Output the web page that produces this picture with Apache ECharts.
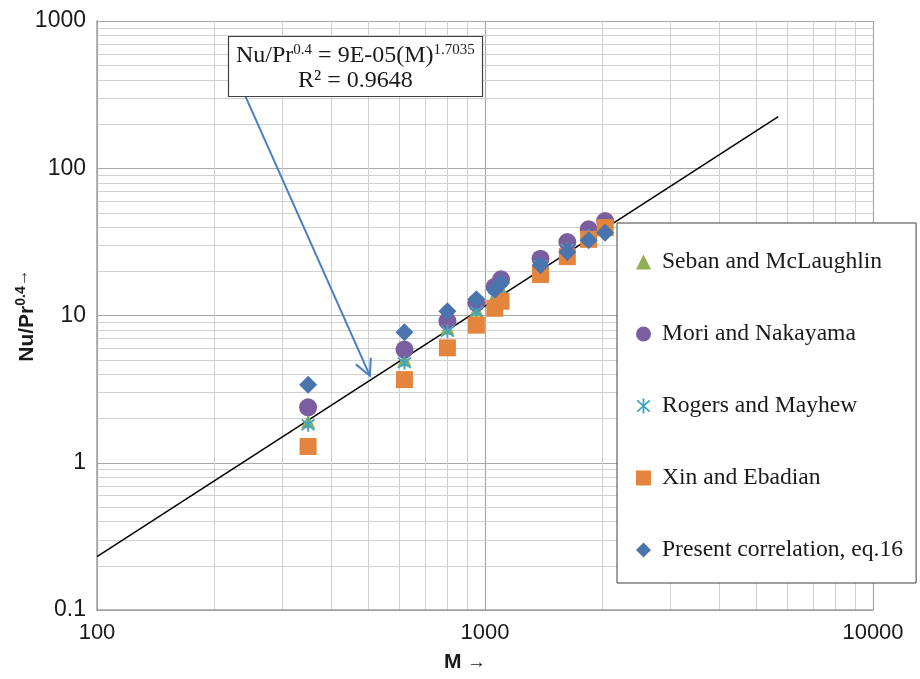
<!DOCTYPE html>
<html>
<head>
<meta charset="utf-8">
<script src="https://cdn.jsdelivr.net/npm/echarts@6/dist/echarts.min.js"></script>
<style>html,body{margin:0;padding:0;background:#fff}#c{width:920px;height:679px}</style>
</head>
<body>
<div id="c"></div>
<script>
// ---- data ----
const mValues = [350, 620, 800, 950, 1060, 1100, 1390, 1630, 1850, 2040];
const seban   = [1.91, 5.02, 8.25, 11.0, 13.6, 15.2, 22.5, 29.0, 35.5, 41.5];
const mori    = [2.38, 5.87, 9.15, 12.2, 15.7, 17.6, 24.3, 31.5, 38.5, 43.8];
const rogers  = [1.81, 4.77, 7.82, 10.6, 13.2, 14.8, 21.8, 28.2, 34.5, 40.5];
const xin     = [1.29, 3.67, 6.03, 8.6, 11.2, 12.5, 19.0, 25.1, 32.9, 39.5];
const present = [3.38, 7.70, 10.7, 12.9, 15.0, 16.7, 21.9, 27.0, 32.5, 36.5];
const trendLine = [[100, 0.23], [5700, 224]];
const arrowLine = [241, 310, 505, 3.9];
const xMinor = [200, 300, 400, 500, 600, 700, 800, 900, 2000, 3000, 4000, 5000, 6000, 7000, 8000, 9000];
const yMinor = [0.2,0.3,0.4,0.5,0.6,0.7,0.8,0.9, 2,3,4,5,6,7,8,9, 20,30,40,50,60,70,80,90, 200,300,400,500,600,700,800,900];
const seriesNames = ['Seban and McLaughlin', 'Mori and Nakayama', 'Rogers and Mayhew', 'Xin and Ebadian', 'Present correlation, eq.16'];
const eqText = ['Nu/Pr', '0.4', ' = 9E-05(M)', '1.7035'];
const r2Text = 'R² = 0.9648';

const pair = arr => arr.map((v, i) => [mValues[i], v]);
const starPath = 'path://M4.4,0L5.6,0L5.6,10L4.4,10Z M1.203,0.755L9.603,8.355L8.797,9.245L0.397,1.645Z M9.603,1.645L1.203,9.245L0.397,8.355L8.797,0.755Z';
const serif = '"Liberation Serif", "Times New Roman", serif';
const sans = '"Liberation Sans", Arial, sans-serif';

const chart = echarts.init(document.getElementById('c'), null, {renderer: 'canvas'});

function minorGrid(params, api) {
  const cs = params.coordSys;
  const isX = api.value(2) === 0;
  const p = api.coord([api.value(0), api.value(1)]);
  if (isX) {
    const x = Math.round(p[0]) + 0.5;
    return {type: 'line', shape: {x1: x, y1: cs.y, x2: x, y2: cs.y + cs.height},
            style: {stroke: '#d0d0d0', lineWidth: 1}};
  }
  const y = Math.round(p[1]) + 0.5;
  return {type: 'line', shape: {x1: cs.x, y1: y, x2: cs.x + cs.width, y2: y},
          style: {stroke: '#d0d0d0', lineWidth: 1}};
}

function arrowItem(params, api) {
  const p1 = api.coord([api.value(0), api.value(1)]);
  const p2 = api.coord([api.value(2), api.value(3)]);
  const dx = p2[0] - p1[0], dy = p2[1] - p1[1];
  const len = Math.sqrt(dx * dx + dy * dy);
  const bx = -dx / len, by = -dy / len;
  const a = 27 * Math.PI / 180, L = 18;
  const r1 = [p2[0] + L * (bx * Math.cos(a) - by * Math.sin(a)), p2[1] + L * (bx * Math.sin(a) + by * Math.cos(a))];
  const r2 = [p2[0] + L * (bx * Math.cos(-a) - by * Math.sin(-a)), p2[1] + L * (bx * Math.sin(-a) + by * Math.cos(-a))];
  const st = {stroke: '#4a7fc1', lineWidth: 2, fill: null};
  return {type: 'group', children: [
    {type: 'line', shape: {x1: p1[0], y1: p1[1], x2: p2[0], y2: p2[1]}, style: st},
    {type: 'polyline', shape: {points: [r1, p2, r2]}, style: st}
  ]};
}

chart.setOption({
  animation: false,
  backgroundColor: '#ffffff',
  grid: {left: 97, right: 47, top: 21, bottom: 69, containLabel: false, outerBoundsMode: 'none'},
  title: {
    left: 228, top: 36, zlevel: 2, z: 100,
    backgroundColor: '#ffffff', borderColor: '#404040', borderWidth: 1.2,
    padding: [7, 8, 4, 8],
    itemGap: 0,
    text: '{a|' + eqText[0] + '}{s|' + eqText[1] + '}{a|' + eqText[2] + '}{s|' + eqText[3] + '}\n{a|' + r2Text + '}',
    textStyle: {
      align: 'center',
      rich: {
        a: {fontFamily: serif, fontSize: 24, fontWeight: 'normal', color: '#1a1a1a', lineHeight: 25, align: 'center'},
        s: {fontFamily: serif, fontSize: 15, fontWeight: 'normal', color: '#1a1a1a', verticalAlign: 'top', lineHeight: 25, align: 'center'}
      }
    }
  },
  xAxis: {
    type: 'log', logBase: 10, min: 100, max: 10000,
    name: '{b|M}{r| →}', nameLocation: 'middle', nameGap: 42, nameMoveOverlap: false,
    nameTextStyle: {padding: [0, 40, 0, 0], rich: {b: {fontFamily: sans, fontWeight: 'bold', fontSize: 21, color: '#1a1a1a'}, r: {fontFamily: sans, fontSize: 19, color: '#1a1a1a'}}},
    axisLine: {show: true, lineStyle: {color: '#a0a0a0', width: 1.5}},
    axisTick: {show: false},
    axisLabel: {fontFamily: sans, fontSize: 22, color: '#1a1a1a', margin: 12, formatter: v => String(v)},
    splitLine: {show: true, lineStyle: {color: '#a8a8a8', width: 1.2}}
  },
  yAxis: {
    type: 'log', logBase: 10, min: 0.1, max: 1000,
    name: '{b|Nu/Pr}{s|0.4}{r|→}', nameLocation: 'middle', nameGap: 57, nameRotate: 90, nameMoveOverlap: false,
    nameTextStyle: {rich: {
      b: {fontFamily: sans, fontWeight: 'bold', fontSize: 21, color: '#1a1a1a', lineHeight: 26},
      s: {fontFamily: sans, fontWeight: 'bold', fontSize: 14, color: '#1a1a1a', verticalAlign: 'top', lineHeight: 26},
      r: {fontFamily: sans, fontSize: 17, color: '#1a1a1a', verticalAlign: 'top', lineHeight: 26}
    }},
    axisLine: {show: true, lineStyle: {color: '#a0a0a0', width: 1.5}},
    axisTick: {show: false},
    axisLabel: {fontFamily: sans, fontSize: 23, color: '#1a1a1a', margin: 11,
      formatter: v => String(v)},
    splitLine: {show: true, lineStyle: {color: '#a8a8a8', width: 1.2}}
  },
  legend: {
    orient: 'vertical', left: 617, top: 223, zlevel: 2, z: 50,
    data: seriesNames,
    backgroundColor: '#ffffff', borderColor: '#404040', borderWidth: 1,
    padding: [27, 13, 21, 19],
    itemWidth: 15, itemHeight: 15, itemGap: 48,
    textStyle: {fontFamily: serif, fontSize: 23.6, color: '#1a1a1a', lineHeight: 24, padding: [0, 0, 0, 6]}
  },
  series: [
    {
      type: 'custom', name: '_minorGrid', z: 0, silent: true, clip: false,
      data: xMinor.map(v => [v, 1, 0]).concat(yMinor.map(v => [100, v, 1])),
      encode: {x: 0, y: 1},
      renderItem: minorGrid
    },
    {
      type: 'line', name: '_trend', data: trendLine, z: 2, silent: true,
      showSymbol: false, symbol: 'none',
      lineStyle: {color: '#000000', width: 1.5, type: 'solid'}
    },
    {
      type: 'scatter', name: seriesNames[0], data: pair(seban), z: 3,
      symbol: 'triangle', symbolSize: 14,
      itemStyle: {color: '#8fb052', opacity: 1}
    },
    {
      type: 'scatter', name: seriesNames[1], data: pair(mori), z: 3,
      symbol: 'circle', symbolSize: 18,
      itemStyle: {color: '#7b5ea0', opacity: 1}
    },
    {
      type: 'scatter', name: seriesNames[2], data: pair(rogers), z: 3,
      symbol: starPath, symbolSize: 14,
      itemStyle: {color: '#3fa5c2', opacity: 1}
    },
    {
      type: 'scatter', name: seriesNames[3], data: pair(xin), z: 3,
      symbol: 'rect', symbolSize: 17,
      itemStyle: {color: '#e4853d', opacity: 1}
    },
    {
      type: 'scatter', name: seriesNames[4], data: pair(present), z: 3,
      symbol: 'diamond', symbolSize: 18,
      itemStyle: {color: '#4a74ad', opacity: 1}
    },
    {
      type: 'custom', name: '_arrow', z: 4, silent: true, clip: false,
      data: [arrowLine],
      encode: {x: [0, 2], y: [1, 3]},
      renderItem: arrowItem
    }
  ]
});
</script>
</body>
</html>
